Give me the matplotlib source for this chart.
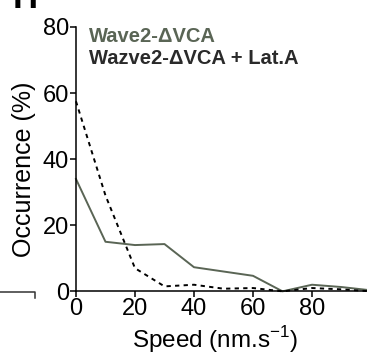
import matplotlib
matplotlib.use("Agg")
import matplotlib.pyplot as plt
from matplotlib.lines import Line2D

plt.rcParams["font.family"] = ["Liberation Sans", "DejaVu Sans"]
plt.rcParams["mathtext.fontset"] = "custom"
plt.rcParams["mathtext.rm"] = "Liberation Sans"

# Data
speed = [0, 10, 20, 30, 40, 50, 60, 70, 80, 90, 100]
wave2_dvca = [34, 15, 14, 14.3, 7.3, 6, 4.7, 0, 2, 1.3, 0.3]
wave2_dvca_lata = [57.5, 29, 7, 1.5, 2, 0.8, 1, 0, 1, 0.6, 0]

series_names = ["Wave2-ΔVCA", "Wazve2-ΔVCA + Lat.A"]
series_colors = ["#5a6555", "#2a2a2a"]

y_ticks = [0, 20, 40, 60, 80]
x_ticks = [0, 20, 40, 60, 80]

fig = plt.figure(figsize=(3.67, 3.54), dpi=100)
ax = fig.add_axes([0.207, 0.177, 0.804, 0.747])

ax.plot(speed, wave2_dvca, color=series_colors[0], lw=1.4, clip_on=False)
ax.plot(speed, wave2_dvca_lata, color="black", lw=1.4, ls=(0, (2.2, 2.2)),
        clip_on=False)

ax.set_xlim(0, 100)
ax.set_ylim(0, 80)
ax.set_xticks(x_ticks)
ax.set_yticks(y_ticks)
ax.spines["top"].set_visible(False)
ax.spines["right"].set_visible(False)
for s in ["left", "bottom"]:
    ax.spines[s].set_linewidth(1.1)
ax.tick_params(width=1.1, length=4, labelsize=17, pad=1)

ax.set_xlabel("Speed (nm.s$^{\\mathrm{-1}}$)", fontsize=17.5)
ax.xaxis.set_label_coords(0.47, -0.125)
ax.set_ylabel("Occurrence (%)", fontsize=18)
ax.yaxis.set_label_coords(-0.135, 0.46)

# legend as coloured text
ax.text(0.045, 1.0, series_names[0], transform=ax.transAxes, color=series_colors[0],
        fontsize=14.5, fontweight="bold", va="top")
ax.text(0.045, 0.917, series_names[1], transform=ax.transAxes, color=series_colors[1],
        fontsize=14.5, fontweight="bold", va="top")

# pieces of neighbouring panels
fig.text(0.035, 0.977, "H", fontsize=25, fontweight="bold", va="baseline")
fig.add_artist(Line2D([0, 0.096, 0.096], [0.176, 0.176, 0.158],
                      color="#333333", lw=1.1))

fig.savefig("out.png", dpi=100)
